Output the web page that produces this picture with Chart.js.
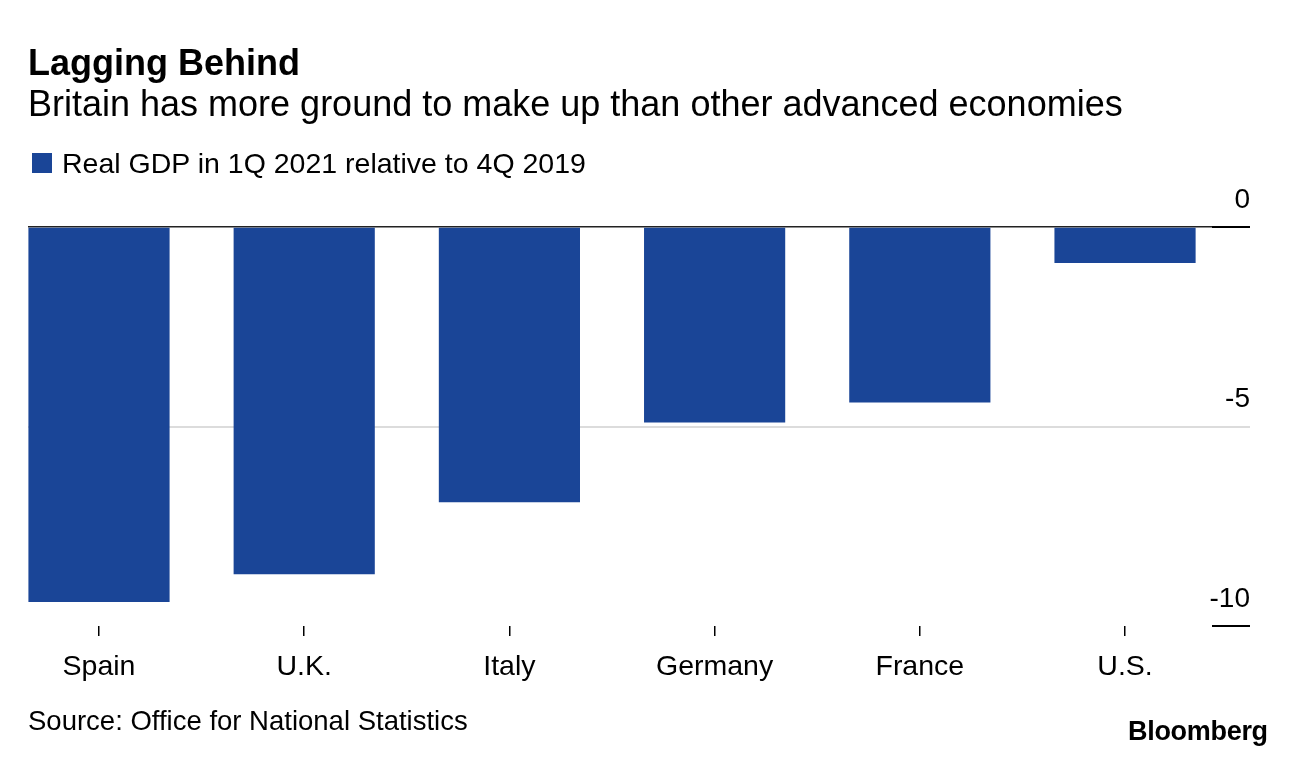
<!DOCTYPE html>
<html>
<head>
<meta charset="utf-8">
<script src="https://cdn.jsdelivr.net/npm/chart.js@4.4.1/dist/chart.umd.min.js"></script>
<style>
body{margin:0;background:#fff;font-family:"Liberation Sans",Arial,sans-serif;color:#000}
#wrap{position:relative;width:1296px;height:760px;overflow:hidden;background:#fff}
#wrap canvas{position:absolute;left:0;top:0}
.t{position:absolute;white-space:nowrap;line-height:1}
#title{left:28px;top:45px;font-size:36px;font-weight:bold}
#sub{left:28px;top:86px;font-size:36px}
#legend{left:62px;top:149px;font-size:28.5px}
#swatch{position:absolute;left:32px;top:153px;width:20px;height:20px;background:#1a4597}
#source{left:28px;top:707px;font-size:27.5px}
#logo{left:1128px;top:718px;font-size:27px;font-weight:bold;letter-spacing:-0.3px}
</style>
</head>
<body>
<div id="wrap">
  <canvas id="mainChart" width="1296" height="760"></canvas>
  <div class="t" id="title">Lagging Behind</div>
  <div class="t" id="sub">Britain has more ground to make up than other advanced economies</div>
  <div id="swatch"></div>
  <div class="t" id="legend">Real GDP in 1Q 2021 relative to 4Q 2019</div>
  <div class="t" id="source">Source: Office for National Statistics</div>
  <div class="t" id="logo">Bloomberg</div>
</div>
<script>
const countries = ['Spain', 'U.K.', 'Italy', 'Germany', 'France', 'U.S.'];
const gdpChange = [-9.4, -8.7, -6.9, -4.9, -4.4, -0.9];
const yTicks = [0, -5, -10];

// short black marks at the top and bottom of the value axis
const edgeMarks = {
    id: 'edgeMarks',
    afterDatasetsDraw(chart) {
        const ctx = chart.ctx;
        const area = chart.chartArea;
        const y = chart.scales.y;
        ctx.save();
        ctx.strokeStyle = '#000';
        ctx.lineWidth = 2;
        [y.max, y.min].forEach(v => {
            const py = y.getPixelForValue(v);
            ctx.beginPath();
            ctx.moveTo(area.right - 38, py);
            ctx.lineTo(area.right, py);
            ctx.stroke();
        });
        ctx.restore();
    }
};

function drawChart() {
    const ctx = document.getElementById('mainChart').getContext('2d');
    window.myChart = new Chart(ctx, {
        type: 'bar',
        data: {
            datasets: [{
                label: 'Real GDP in 1Q 2021 relative to 4Q 2019',
                data: gdpChange.map((v, i) => ({x: i, y: v})),
                backgroundColor: '#1a4597',
                borderWidth: 0,
                barPercentage: 0.688,
                categoryPercentage: 1
            }]
        },
        options: {
            responsive: false,
            animation: false,
            layout: {padding: {left: 28, right: 46, top: 227, bottom: 74}},
            plugins: {legend: {display: false}, tooltip: {enabled: false}},
            scales: {
                x: {
                    type: 'linear',
                    offset: false,
                    min: -0.346,
                    max: 5.609,
                    afterBuildTicks: s => { s.ticks = countries.map((c, i) => ({value: i})); },
                    afterFit: s => { s.height = 60; },
                    border: {display: false},
                    grid: {offset: false, drawOnChartArea: false, drawTicks: true, tickLength: 10, color: '#000', lineWidth: 1.5},
                    ticks: {
                        padding: 14,
                        color: '#000',
                        font: {family: 'Liberation Sans', size: 28.5},
                        callback: v => countries[v]
                    }
                },
                y: {
                    position: 'right',
                    min: -10,
                    max: 0,
                    afterBuildTicks: s => { s.ticks = yTicks.map(v => ({value: v})); },
                    afterFit: s => { s.width = 0; },
                    border: {display: false},
                    grid: {
                        drawTicks: false,
                        color: c => c.tick.value === 0 ? '#222' : (c.tick.value === -5 ? '#dcdcdc' : 'rgba(0,0,0,0)'),
                        lineWidth: c => c.tick.value === 0 ? 1.5 : 2
                    },
                    ticks: {
                        mirror: true,
                        padding: 0,
                        labelOffset: -27,
                        color: '#000',
                        font: {family: 'Liberation Sans', size: 28}
                    }
                }
            }
        },
        plugins: [edgeMarks]
    });
}
document.addEventListener('DOMContentLoaded', drawChart);
</script>
</body>
</html>
